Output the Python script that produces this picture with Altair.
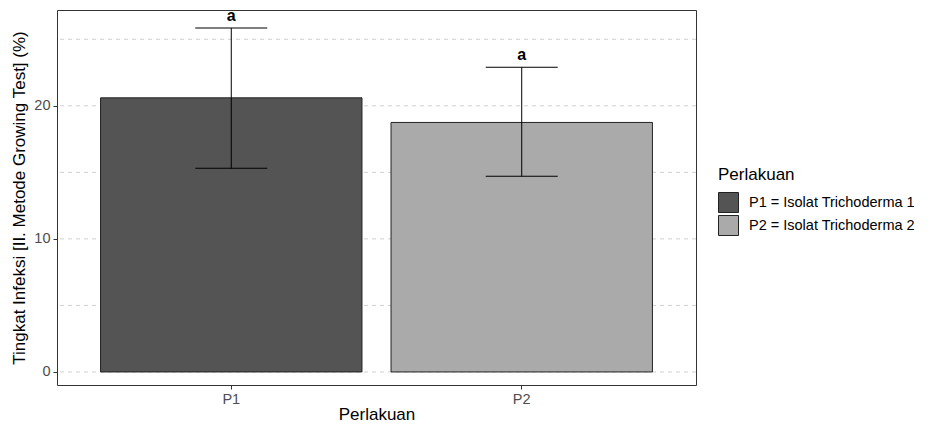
import altair as alt
import pandas as pd

# ---- data ----
categories = ["P1", "P2"]
legend_labels = ["P1 = Isolat Trichoderma 1", "P2 = Isolat Trichoderma 2"]
means = [20.6, 18.75]
upper = [25.85, 22.9]
lower = [15.3, 14.7]
letters = ["a", "a"]
grid_values = [0, 5, 10, 15, 20, 25]
tick_values = [0, 10, 20]
bar_colors = ["#545454", "#AAAAAA"]

df = pd.DataFrame({
    "Perlakuan": categories,
    "Ket": legend_labels,
    "mean": means,
    "hi": upper,
    "lo": lower,
    "lab": letters,
})
grid_df = pd.DataFrame({"g": grid_values})

FONT = "Liberation Sans"
ydom = [-0.98, 27.2]
yscale = alt.Scale(domain=ydom, nice=False, zero=False)
xscale = alt.Scale(domain=categories, paddingInner=0.1, paddingOuter=0.15)

grid = alt.Chart(grid_df).mark_rule(
    color="#D0D0D0", strokeDash=[4, 4], strokeWidth=1
).encode(y=alt.Y("g:Q", scale=yscale))

bars = alt.Chart(df).mark_bar(stroke="#222222", strokeWidth=1).encode(
    x=alt.X("Perlakuan:N", scale=xscale, title="Perlakuan",
            axis=alt.Axis(labelAngle=0, labelColor="#4D4D4D", labelFontSize=14.5,
                          labelFont=FONT, titleFont=FONT, titleFontSize=17,
                          titleFontWeight="normal", titleColor="#000000",
                          tickColor="#333333", tickSize=4, domain=False,
                          labelPadding=3, titlePadding=1)),
    y=alt.Y("mean:Q", scale=yscale,
            title="Tingkat Infeksi [II. Metode Growing Test] (%)",
            axis=alt.Axis(values=tick_values, grid=False, labelColor="#4D4D4D",
                          labelFontSize=14.5, labelFont=FONT, titleFont=FONT,
                          titleFontSize=17, titleFontWeight="normal",
                          titleColor="#000000", tickColor="#333333", tickSize=4,
                          domain=False, labelPadding=3, titlePadding=5)),
    color=alt.Color("Ket:N", title="Perlakuan",
                    scale=alt.Scale(domain=legend_labels, range=bar_colors),
                    legend=alt.Legend(orient="none", legendX=661, legendY=157,
                                      titleFont=FONT, titleFontSize=17,
                                      titleFontWeight="normal", titleColor="#000000",
                                      labelFont=FONT, labelFontSize=14.5,
                                      labelColor="#000000", labelLimit=400,
                                      symbolType="square",
                                      symbolSize=400, symbolStrokeColor="#222222",
                                      symbolStrokeWidth=1, symbolOpacity=1,
                                      rowPadding=-8, titlePadding=8, labelOffset=10)),
)

err = alt.Chart(df).mark_rule(color="#000000", strokeWidth=1).encode(
    x=alt.X("Perlakuan:N", scale=xscale),
    y=alt.Y("lo:Q", scale=yscale),
    y2="hi:Q",
)
cap_hi = alt.Chart(df).mark_tick(color="#000000", thickness=1, size=72, opacity=1).encode(
    x=alt.X("Perlakuan:N", scale=xscale),
    y=alt.Y("hi:Q", scale=yscale),
)
cap_lo = alt.Chart(df).mark_tick(color="#000000", thickness=1, size=72, opacity=1).encode(
    x=alt.X("Perlakuan:N", scale=xscale),
    y=alt.Y("lo:Q", scale=yscale),
)
text = alt.Chart(df).mark_text(
    font=FONT, fontSize=16, fontWeight="bold", baseline="bottom", dy=-4, color="#000000"
).encode(
    x=alt.X("Perlakuan:N", scale=xscale),
    y=alt.Y("hi:Q", scale=yscale),
    text="lab:N",
)

chart = alt.layer(grid, bars, err, cap_hi, cap_lo, text).properties(
    width=639, height=375,
    autosize=alt.AutoSizeParams(type="none"),
    padding={"left": 49, "top": 2, "right": 227, "bottom": 38},
    background="white",
).configure_view(stroke="#333333", strokeWidth=1)

chart.save("out.html", embed_options={"renderer": "svg", "actions": False})
